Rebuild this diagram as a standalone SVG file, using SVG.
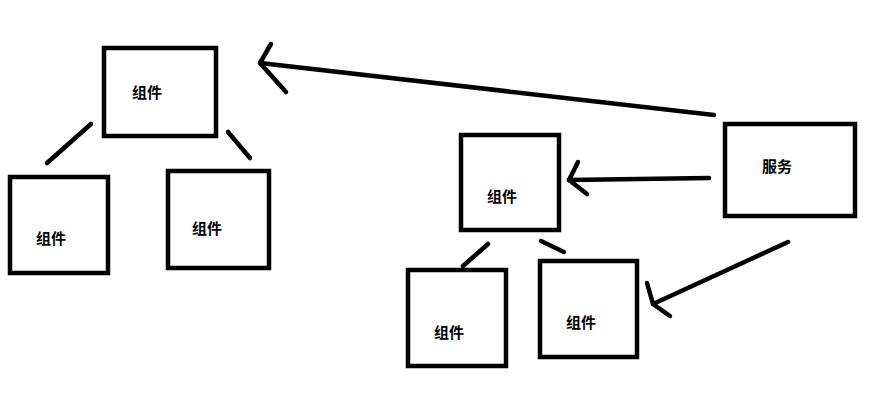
<svg xmlns="http://www.w3.org/2000/svg" width="875" height="419" viewBox="0 0 875 419">
<style>
.box{fill:#fff;stroke:#000;stroke-width:4.5}
.lbl{font-family:"Noto Sans CJK SC","Noto Sans",sans-serif;font-size:15px;font-weight:bold;fill:#000}
.con{fill:none;stroke:#000;stroke-width:4.5;stroke-linecap:round;stroke-linejoin:round}
</style>
<rect width="875" height="419" fill="#fff"/>
<g id="connectors">
<path class="con" d="M91,124 L47,163"/>
<path class="con" d="M228,132 L250,158"/>
<path class="con" d="M488,244 L463,266"/>
<path class="con" d="M541,241 L564,252"/>
<path class="con" d="M714,115 L260,63"/>
<path class="con" d="M271,44 L260,63 L286,92"/>
<path class="con" d="M709,178 L569,180"/>
<path class="con" d="M578,162 L569,180 L587,194"/>
<path class="con" d="M788,242 L653,304"/>
<path class="con" d="M647,283 L653,304 L670,316"/>
</g>
<g id="c1"><rect class="box" x="104" y="48" width="112" height="88"/><text class="lbl" x="132" y="98">组件</text></g>
<g id="c2"><rect class="box" x="10" y="177" width="98" height="96"/><text class="lbl" x="36" y="244">组件</text></g>
<g id="c3"><rect class="box" x="168" y="171" width="101" height="97"/><text class="lbl" x="192" y="234">组件</text></g>
<g id="c4"><rect class="box" x="461" y="135" width="98" height="95"/><text class="lbl" x="487" y="202">组件</text></g>
<g id="c5"><rect class="box" x="408" y="270" width="98" height="96"/><text class="lbl" x="434" y="338">组件</text></g>
<g id="c6"><rect class="box" x="540" y="261" width="97" height="96"/><text class="lbl" x="566" y="328">组件</text></g>
<g id="svc"><rect class="box" x="725" y="124" width="130" height="92"/><text class="lbl" x="762" y="172">服务</text></g>
</svg>
